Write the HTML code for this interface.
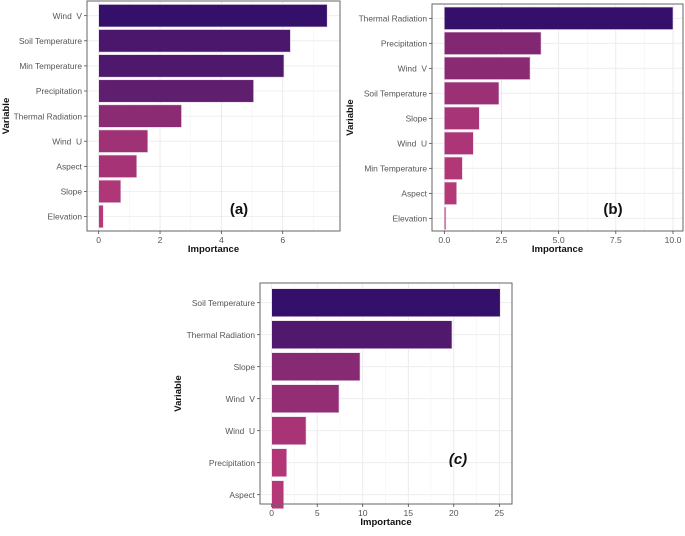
<!DOCTYPE html>
<html><head><meta charset="utf-8">
<style>
body{margin:0;background:#fff;width:685px;height:536px;overflow:hidden;}
svg{display:block;font-family:"Liberation Sans",sans-serif;}
</style></head>
<body>
<svg id="fig" width="685" height="536"></svg>
<script>
// Panel (a)
const catsA = ["Wind\u00a0 V","Soil Temperature","Min Temperature","Precipitation","Thermal Radiation","Wind\u00a0 U","Aspect","Slope","Elevation"];
const valsA = [7.45,6.25,6.04,5.05,2.7,1.6,1.24,0.72,0.15];
const ticksA = [0,2,4,6];
// Panel (b)
const catsB = ["Thermal Radiation","Precipitation","Wind\u00a0 V","Soil Temperature","Slope","Wind\u00a0 U","Min Temperature","Aspect","Elevation"];
const valsB = [10.0,4.23,3.75,2.39,1.53,1.27,0.79,0.54,0.07];
const ticksB = [0,2.5,5,7.5,10];
const tickLabelsB = ["0.0","2.5","5.0","7.5","10.0"];
// Panel (c)
const catsC = ["Soil Temperature","Thermal Radiation","Slope","Wind\u00a0 V","Wind\u00a0 U","Precipitation","Aspect"];
const valsC = [25.1,19.8,9.7,7.39,3.77,1.65,1.32];
const ticksC = [0,5,10,15,20,25];

const NS="http://www.w3.org/2000/svg";
const svg=document.getElementById('fig');
function el(tag,attrs,parent){const e=document.createElementNS(NS,tag);for(const k in attrs)e.setAttribute(k,attrs[k]);(parent||svg).appendChild(e);return e;}
function lerp(a,b,t){return Math.round(a+(b-a)*t);}
function col(t){
  const d=[0x34,0x10,0x6a],p=[0xbc,0x3a,0x78];
  return `rgb(${lerp(p[0],d[0],t)},${lerp(p[1],d[1],t)},${lerp(p[2],d[2],t)})`;}

function panel(o){
  const g=el('g',{});
  
  
  const x=v=>o.x0+(v-0)*o.ppu;
  const y=i=>o.yc0+i*o.step;
  const half=(o.ticks[1]-o.ticks[0])/2;
  for(let k=-1; ; k++){
    const v=k*half;
    if(x(v)>=o.right)break;
    if(x(v)<=o.left)continue;
    const major=(k%2===0);
    const gl=el('line',{x1:x(v),x2:x(v),y1:o.top,y2:o.bottom,stroke:major?'#e6e6e6':'#f2f2f2','stroke-width':major?0.8:0.5},g);
    
    
  }
  o.cats.forEach((c,i)=>{
    const hl=el('line',{x1:o.left,x2:o.right,y1:y(i),y2:y(i),stroke:'#ebebeb','stroke-width':0.8},g);
    
    
  });
  const vmax=Math.max(...o.vals);
  o.cats.forEach((c,i)=>{
    const v=o.vals[i];
    const r=el('rect',{x:x(0),y:y(i)-o.bh/2,width:x(v)-x(0),height:o.bh,fill:col(v/vmax),stroke:'#e8d8e8','stroke-width':0.6},g);
    
    
    const t=el('text',{x:o.left-5,y:y(i)+3.2,'text-anchor':'end','font-size':8.4,fill:'#555'},g);
    t.textContent=c;
    
    
    el('line',{x1:o.left-3,x2:o.left,y1:y(i),y2:y(i),stroke:'#333','stroke-width':0.7},g);
  });
  const f=el('rect',{x:o.left,y:o.top,width:o.right-o.left,height:o.bottom-o.top,fill:'none',stroke:'#666','stroke-width':1},g);
  
  
  o.ticks.forEach((v,i)=>{
    el('line',{x1:x(v),x2:x(v),y1:o.bottom,y2:o.bottom+3,stroke:'#333','stroke-width':0.7},g);
    const t=el('text',{x:x(v),y:o.bottom+12,'text-anchor':'middle','font-size':8.6,fill:'#555'},g);
    t.textContent=o.tickLabels?o.tickLabels[i]:v;
    
    
  });
  const xt=el('text',{x:(o.left+o.right)/2,y:o.bottom+21,'text-anchor':'middle','font-size':9.5,'font-weight':'bold',fill:'#111'},g);
  xt.textContent='Importance';
  
  
  const yt=el('text',{x:o.yx,y:(o.top+o.bottom)/2,'text-anchor':'middle','font-size':9.5,'font-weight':'bold',fill:'#111',transform:`rotate(-90 ${o.yx} ${(o.top+o.bottom)/2})`},g);
  yt.textContent='Variable';
  
  
  const pl=el('text',{x:o.lx,y:o.ly,'text-anchor':'middle','font-size':15,'font-weight':'bold',fill:'#111',"font-style":o.italic?'italic':'normal'},g);
  pl.textContent=o.label;
  
  
}

panel({name:'panel-a',cats:catsA,vals:valsA,ticks:ticksA,left:87,right:340,top:1,bottom:231,x0:98.7,ppu:30.67,yc0:15.7,step:25.1,bh:22.5,yx:9,label:'(a)',lx:239,ly:214});
panel({name:'panel-b',cats:catsB,vals:valsB,ticks:ticksB,tickLabels:tickLabelsB,left:432,right:683,top:4,bottom:231,x0:444.3,ppu:22.87,yc0:18.3,step:25,bh:22.5,yx:353,label:'(b)',lx:613,ly:214});
panel({name:'panel-c',cats:catsC,vals:valsC,ticks:ticksC,left:260,right:512,top:283,bottom:504,x0:271.7,ppu:9.105,yc0:302.7,step:32,bh:28,yx:181,label:'(c)',lx:458,ly:464,italic:true});
</script>
</body></html>
